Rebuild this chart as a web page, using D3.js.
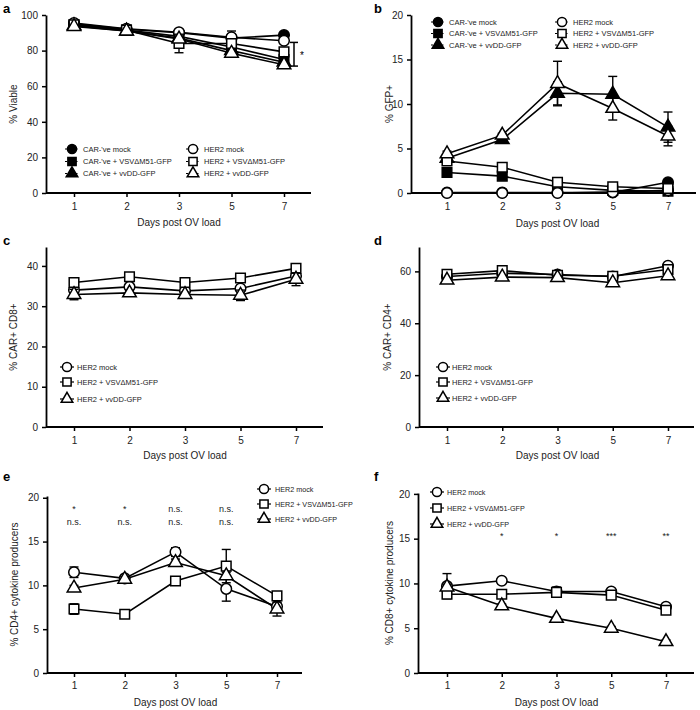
<!DOCTYPE html>
<html><head><meta charset="utf-8">
<script src="https://cdn.jsdelivr.net/npm/d3@7"></script>
<style>body{margin:0;background:#fff} svg{display:block;font-family:"Liberation Sans",Arial,Helvetica,sans-serif}</style>
</head><body><svg id="c" width="700" height="710"></svg>
<script>
// ---------- DATA ----------
const days = ["1", "2", "3", "5", "7"];
const labels = {
  carMock: "CAR-'ve mock",
  carVsv: "CAR-'ve + VSV\u0394M51-GFP",
  carVvdd: "CAR-'ve + vvDD-GFP",
  herMock: "HER2 mock",
  herVsv: "HER2 + VSV\u0394M51-GFP",
  herVvdd: "HER2 + vvDD-GFP"
};

// a: % Viable
const aCarMock = [95, 92, 90, 87, 88.7];
const aCarVsv  = [94.5, 91.5, 88, 82, 75];
const aCarVvdd = [94, 91, 87, 80, 73.5];
const aHerMock = [95.5, 92.3, 90.3, 87.5, 85.5];
const aHerVsv  = [94.5, 91.5, 84, 84, 79.3];
const aHerVvdd = [93.5, 91, 86.5, 78.5, 72];
const aCarMockErr = [0.5, 0.5, 0.5, 4, 0.8];
const aCarVsvErr  = [0.5, 0.5, 0.5, 0.5, 0.5];
const aCarVvddErr = [0.5, 0.5, 0.5, 0.5, 0.5];
const aHerMockErr = [0.5, 0.5, 0.5, 0.5, 0.8];
const aHerVsvErr  = [0.5, 0.5, 5.2, 0.8, 0.8];
const aHerVvddErr = [0.5, 0.5, 0.5, 0.5, 0.8];
const aBracket = [71.3, 84.6];
const aBracketMark = "*";

// b: % GFP+
const bCarMock = [0.05, 0.05, 0.05, 0.05, 1.2];
const bCarVsv  = [2.3, 1.9, 0.7, 0.3, 0.2];
const bCarVvdd = [3.9, 6.0, 11.2, 11.1, 7.4];
const bHerMock = [0, 0, 0, 0.1, 0.3];
const bHerVsv  = [3.6, 2.9, 1.2, 0.7, 0.5];
const bHerVvdd = [4.4, 6.5, 12.3, 9.5, 6.4];
const bCarMockErr = [0, 0, 0, 0, 0.3];
const bCarVsvErr  = [0.2, 0.1, 0.1, 0.1, 0.1];
const bCarVvddErr = [0.2, 0.2, 1.3, 2.0, 1.7];
const bHerMockErr = [0, 0, 0, 0, 0.1];
const bHerVsvErr  = [0.2, 0.1, 0.1, 0.1, 0.1];
const bHerVvddErr = [0.3, 0.2, 2.5, 1.3, 1.1];

// c: % CAR+ CD8+
const cHerMock = [34, 34.8, 33.8, 34.4, 37.5];
const cHerVsv  = [35.9, 37.3, 35.9, 37.0, 39.4];
const cHerVvdd = [32.9, 33.3, 32.9, 32.7, 36.7];
const cHerMockErr = [0.5, 0.5, 0.5, 0.5, 0.5];
const cHerVsvErr  = [0.5, 0.8, 0.5, 0.5, 0.6];
const cHerVvddErr = [1.3, 0.6, 0.6, 1.3, 1.6];

// d: % CAR+ CD4+
const dHerMock = [58, 59.3, 58.8, 58, 62.2];
const dHerVsv  = [58.9, 60.3, 58.5, 58.1, 60.7];
const dHerVvdd = [56.6, 57.8, 57.6, 55.6, 58.3];
const dHerMockErr = [0.6, 0.6, 0.6, 0.6, 0.6];
const dHerVsvErr  = [0.6, 0.6, 0.6, 0.6, 0.6];
const dHerVvddErr = [0.8, 0.6, 0.6, 0.6, 0.6];

// e: % CD4+ cytokine producers
const eHerMock = [11.5, 10.8, 13.8, 9.6, 7.6];
const eHerVsv  = [7.3, 6.7, 10.5, 12.2, 8.8];
const eHerVvdd = [9.7, 10.7, 12.6, 11.1, 7.3];
const eHerMockErr = [0.6, 0.3, 0.5, 1.4, 0.4];
const eHerVsvErr  = [0.6, 0.2, 0.3, 1.9, 0.3];
const eHerVvddErr = [0.3, 0.3, 0.4, 0.4, 0.8];
const eSigTop    = ["*", "*", "n.s.", "n.s.", ""];
const eSigBottom = ["n.s.", "n.s.", "n.s.", "n.s.", ""];

// f: % CD8+ cytokine producers
const fHerMock = [9.7, 10.3, 9.1, 9.1, 7.4];
const fHerVsv  = [8.8, 8.8, 9.0, 8.7, 7.0];
const fHerVvdd = [9.6, 7.5, 6.1, 5.0, 3.5];
const fHerMockErr = [1.4, 0.3, 0.5, 0.3, 0.2];
const fHerVsvErr  = [0.3, 0.3, 0.3, 0.3, 0.3];
const fHerVvddErr = [0.3, 0.2, 0.2, 0.2, 0.2];
const fSig = ["", "*", "*", "***", "**"];

// ---------- DRAWING ----------
const svg = d3.select("#c");
const symType = {circle: d3.symbolCircle, square: d3.symbolSquare, triangle: d3.symbolTriangle};
const symSize = {circle: 88, square: 92, triangle: 80};
const legSize = {circle: 66, square: 68, triangle: 58};

function marker(g, shape, filled, cx, cy, size) {
  g.append("path")
    .attr("d", d3.symbol().type(symType[shape]).size(size)())
    .attr("transform", `translate(${cx},${cy})`)
    .attr("fill", filled ? "#000" : "#fff")
    .attr("stroke", "#000").attr("stroke-width", 1.5);
}

function drawPanel(p) {
  const g = svg.append("g");
  const x = d3.scalePoint().domain(days).range([p.xFirst, p.xLast]);
  const y = d3.scaleLinear().domain([0, p.ymax]).range([p.bottom, p.top]);

  // x axis
  const gx = g.append("g").attr("transform", `translate(0,${p.bottom})`)
    .call(d3.axisBottom(x).tickSize(4).tickPadding(p.xPad).tickSizeOuter(0));
  gx.select(".domain").remove();
  gx.append("line").attr("x1", p.left).attr("x2", p.right)
    .attr("stroke", "#000").attr("stroke-width", 1.8);
  // y axis
  const gy = g.append("g").attr("transform", `translate(${p.left},0)`)
    .call(d3.axisLeft(y).tickValues(p.yticks).tickSize(4).tickPadding(4).tickSizeOuter(0));
  [gx, gy].forEach(a => {
    a.selectAll(".domain").attr("stroke-width", 1.8);
    a.selectAll(".tick line").attr("stroke-width", 1.5);
    a.selectAll("text").attr("font-size", 10).attr("fill", "#222")
      .attr("font-family", "Liberation Sans, Arial, sans-serif");
  });

  // titles
  g.append("text").attr("x", (p.xFirst + p.xLast) / 2).attr("y", p.xTitleY)
    .attr("text-anchor", "middle").attr("font-size", 10).attr("fill", "#222")
    .text("Days post OV load");
  g.append("text")
    .attr("transform", `translate(${p.yTitleX},${(p.top + p.bottom) / 2}) rotate(-90)`)
    .attr("text-anchor", "middle").attr("font-size", 10).attr("fill", "#222")
    .text(p.yTitle);
  g.append("text").attr("x", p.letterX).attr("y", p.letterY)
    .attr("font-size", 13).attr("font-weight", "bold").text(p.letter);

  const line = d3.line().x((d, i) => x(days[i])).y(d => y(d));
  p.series.forEach(s => {
    g.append("path").attr("d", line(s.vals)).attr("fill", "none")
      .attr("stroke", "#000").attr("stroke-width", 1.6);
  });
  p.series.forEach(s => {
    s.vals.forEach((v, i) => {
      const e = s.errs[i];
      if (e > 0) {
        const cx = x(days[i]);
        g.append("line").attr("x1", cx).attr("x2", cx)
          .attr("y1", y(Math.max(0, v - e))).attr("y2", y(v + e))
          .attr("stroke", "#000").attr("stroke-width", 1.4);
        [v - e, v + e].forEach(b => {
          if (b < 0) return;
          g.append("line").attr("x1", cx - 4.5).attr("x2", cx + 4.5)
            .attr("y1", y(b)).attr("y2", y(b))
            .attr("stroke", "#000").attr("stroke-width", 1.4);
        });
      }
    });
    s.vals.forEach((v, i) => marker(g, s.shape, s.filled, x(days[i]), y(v), symSize[s.shape]));
  });

  // legend
  const L = p.legend;
  L.items.forEach((it, k) => {
    const col = L.cols[Math.floor(k / L.rows.length)];
    const ry = L.rows[k % L.rows.length];
    g.append("line").attr("x1", col - 7).attr("x2", col + 7).attr("y1", ry).attr("y2", ry)
      .attr("stroke", "#000").attr("stroke-width", 1.2).attr("stroke-dasharray", L.dash || null);
    marker(g, it.shape, it.filled, col, ry, legSize[it.shape]);
    g.append("text").attr("x", col + L.gap).attr("y", ry + 2.6)
      .attr("font-size", L.font).attr("fill", "#222").text(it.label);
  });

  if (p.extra) p.extra(g, x, y);
}

const S = (vals, errs, shape, filled, label) => ({vals, errs, shape, filled, label});

const sixA = [
  S(aCarMock, aCarMockErr, "circle", true, labels.carMock),
  S(aCarVsv, aCarVsvErr, "square", true, labels.carVsv),
  S(aCarVvdd, aCarVvddErr, "triangle", true, labels.carVvdd),
  S(aHerMock, aHerMockErr, "circle", false, labels.herMock),
  S(aHerVsv, aHerVsvErr, "square", false, labels.herVsv),
  S(aHerVvdd, aHerVvddErr, "triangle", false, labels.herVvdd)
];
const sixB = [
  S(bCarMock, bCarMockErr, "circle", true, labels.carMock),
  S(bCarVsv, bCarVsvErr, "square", true, labels.carVsv),
  S(bCarVvdd, bCarVvddErr, "triangle", true, labels.carVvdd),
  S(bHerMock, bHerMockErr, "circle", false, labels.herMock),
  S(bHerVsv, bHerVsvErr, "square", false, labels.herVsv),
  S(bHerVvdd, bHerVvddErr, "triangle", false, labels.herVvdd)
];
const three = (m, me, v, ve, t, te) => [
  S(m, me, "circle", false, labels.herMock),
  S(v, ve, "square", false, labels.herVsv),
  S(t, te, "triangle", false, labels.herVvdd)
];

// a
drawPanel({
  left: 46, right: 311, top: 15, bottom: 193, ymax: 100, yticks: [0, 20, 40, 60, 80, 100],
  xFirst: 74, xLast: 284, xPad: 6, xTitleY: 225.5, yTitleX: 17, yTitle: "% Viable",
  letter: "a", letterX: 3, letterY: 13, series: sixA,
  legend: {items: sixA, cols: [72, 193], rows: [149, 161.5, 173.5], gap: 11, font: 7.5, dash: "2,1.5"},
  extra: (g, x, y) => {
    const bx = 294;
    g.append("line").attr("x1", bx).attr("x2", bx).attr("y1", y(aBracket[0])).attr("y2", y(aBracket[1]))
      .attr("stroke", "#000").attr("stroke-width", 1.5);
    aBracket.forEach(b => g.append("line").attr("x1", bx - 4).attr("x2", bx + 4)
      .attr("y1", y(b)).attr("y2", y(b)).attr("stroke", "#000").attr("stroke-width", 1.5));
    g.append("text").attr("x", bx + 6).attr("y", y((aBracket[0] + aBracket[1]) / 2) + 5)
      .attr("font-size", 10).text(aBracketMark);
  }
});

// b
drawPanel({
  left: 411, right: 696, top: 15, bottom: 193, ymax: 20, yticks: [0, 5, 10, 15, 20],
  xFirst: 447, xLast: 668, xPad: 6, xTitleY: 226.5, yTitleX: 393, yTitle: "% GFP+",
  letter: "b", letterX: 374, letterY: 13, series: sixB,
  legend: {items: sixB, cols: [438, 562], rows: [22, 33.5, 45], gap: 11, font: 7.5, dash: "2,1.5"}
});

// c
const cSeries = three(cHerMock, cHerMockErr, cHerVsv, cHerVsvErr, cHerVvdd, cHerVvddErr);
drawPanel({
  left: 46, right: 323, top: 247, bottom: 427, ymax: 44.7, yticks: [0, 10, 20, 30, 40],
  xFirst: 74, xLast: 296, xPad: 6, xTitleY: 458.5, yTitleX: 17, yTitle: "% CAR+ CD8+",
  letter: "c", letterX: 3, letterY: 245, series: cSeries,
  legend: {items: cSeries, cols: [67], rows: [367, 382, 399], gap: 10, font: 7.5}
});

// d
const dSeries = three(dHerMock, dHerMockErr, dHerVsv, dHerVsvErr, dHerVvdd, dHerVvddErr);
drawPanel({
  left: 419, right: 694, top: 247, bottom: 427, ymax: 69.4, yticks: [0, 20, 40, 60],
  xFirst: 447, xLast: 668, xPad: 6, xTitleY: 458.5, yTitleX: 391, yTitle: "% CAR+ CD4+",
  letter: "d", letterX: 374, letterY: 245, series: dSeries,
  legend: {items: dSeries, cols: [443], rows: [367, 382, 398], gap: 9, font: 7.5}
});

// e
const eSeries = three(eHerMock, eHerMockErr, eHerVsv, eHerVsvErr, eHerVvdd, eHerVvddErr);
drawPanel({
  left: 47, right: 302, top: 496, bottom: 673, ymax: 20.2, yticks: [0, 5, 10, 15, 20],
  xFirst: 74, xLast: 277, xPad: 5, xTitleY: 705.5, yTitleX: 18, yTitle: "% CD4+ cytokine producers",
  letter: "e", letterX: 3, letterY: 481, series: eSeries,
  legend: {items: eSeries, cols: [264], rows: [489, 504, 519], gap: 11, font: 7.2},
  extra: (g, x, y) => {
    days.forEach((d, i) => {
      g.append("text").attr("x", x(d)).attr("y", 512).attr("text-anchor", "middle")
        .attr("font-size", 9).attr("fill", "#222").text(eSigTop[i]);
      g.append("text").attr("x", x(d)).attr("y", 525).attr("text-anchor", "middle")
        .attr("font-size", 9).attr("fill", "#222").text(eSigBottom[i]);
    });
  }
});

// f
const fSeries = three(fHerMock, fHerMockErr, fHerVsv, fHerVsvErr, fHerVvdd, fHerVvddErr);
drawPanel({
  left: 418, right: 694, top: 493, bottom: 673, ymax: 20.1, yticks: [0, 5, 10, 15, 20],
  xFirst: 447, xLast: 666, xPad: 5, xTitleY: 705.5, yTitleX: 393, yTitle: "% CD8+ cytokine producers",
  letter: "f", letterX: 374, letterY: 481, series: fSeries,
  legend: {items: fSeries, cols: [437], rows: [492, 508, 524], gap: 10, font: 7.2},
  extra: (g, x, y) => {
    days.forEach((d, i) => {
      g.append("text").attr("x", x(d)).attr("y", 539).attr("text-anchor", "middle")
        .attr("font-size", 9).attr("fill", "#222").text(fSig[i]);
    });
  }
});
</script></body></html>
